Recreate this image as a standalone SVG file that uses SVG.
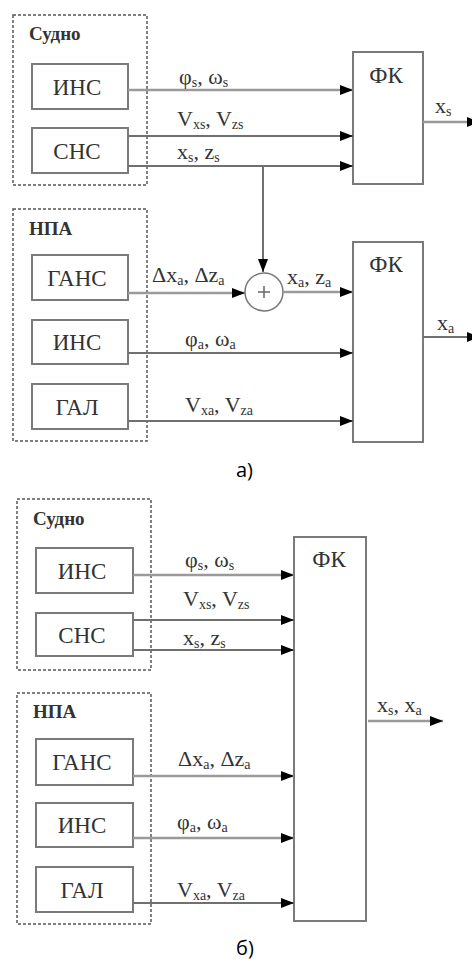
<svg xmlns="http://www.w3.org/2000/svg" width="472" height="963" viewBox="0 0 472 963">
<defs>
<style>
.grp{fill:none;stroke:#555;stroke-width:1.5;stroke-dasharray:3 2}
.box{fill:#fff;stroke:#7a7a7a;stroke-width:2}
.ln{fill:none;stroke:#707070;stroke-width:2}
.lt{fill:none;stroke:#9a9a9a;stroke-width:2.5}
.bt{font-family:"Liberation Serif","DejaVu Serif",serif;font-size:23px;fill:#333;text-anchor:middle}
.gt{font-family:"Liberation Serif","DejaVu Serif",serif;font-size:19px;font-weight:bold;fill:#333}
.lb{font-family:"Liberation Serif","DejaVu Serif",serif;font-size:22px;fill:#333}
.sub{font-size:14px}
.cap{font-family:"Open Sans","Liberation Sans",sans-serif;font-size:20px;fill:#000}
</style>
<marker id="ah" markerUnits="userSpaceOnUse" markerWidth="13" markerHeight="10" refX="13" refY="5" orient="auto">
<path d="M0,0 L13,5 L0,10 z" fill="#000"/>
</marker>
</defs>
<rect width="472" height="963" fill="#fff"/>

<!-- Part a -->
<g id="a-ship-group"><rect class="grp" x="13" y="15" width="134" height="170"/><text class="gt" x="29" y="40">Судно</text></g>
<g id="a-ins-s"><rect class="box" x="32" y="64" width="96" height="45"/><text class="bt" x="77" y="95">ИНС</text></g>
<g id="a-sns"><rect class="box" x="32" y="128" width="96" height="45"/><text class="bt" x="77" y="159">СНС</text></g>
<g id="a-npa-group"><rect class="grp" x="13" y="209" width="134" height="232"/><text class="gt" x="29" y="235">НПА</text></g>
<g id="a-gans"><rect class="box" x="32" y="255" width="96" height="45"/><text class="bt" x="77" y="286">ГАНС</text></g>
<g id="a-ins-a"><rect class="box" x="32" y="320" width="96" height="44"/><text class="bt" x="77" y="350">ИНС</text></g>
<g id="a-gal"><rect class="box" x="32" y="384" width="96" height="45"/><text class="bt" x="77" y="415">ГАЛ</text></g>
<g id="a-fk1"><rect class="box" x="353" y="52" width="70" height="132"/><text class="bt" x="386" y="83">ФК</text></g>
<g id="a-fk2"><rect class="box" x="353" y="242" width="70" height="200"/><text class="bt" x="386" y="272">ФК</text></g>
<g id="a-sum"><circle cx="264" cy="292" r="19" fill="#fff" stroke="#777" stroke-width="1.5"/><path d="M258,292 H270 M264,286 V298" stroke="#666" stroke-width="1.5"/></g>

<g id="a-connectors">
<line class="lt" x1="128" y1="90" x2="353" y2="90" marker-end="url(#ah)"/>
<line class="ln" x1="128" y1="136" x2="353" y2="136" marker-end="url(#ah)"/>
<line class="ln" x1="128" y1="166" x2="353" y2="166" marker-end="url(#ah)"/>
<line class="ln" x1="263" y1="166" x2="263" y2="272" marker-end="url(#ah)"/>
<line class="lt" x1="128" y1="293" x2="245" y2="293" marker-end="url(#ah)"/>
<line class="lt" x1="283" y1="292" x2="353" y2="292" marker-end="url(#ah)"/>
<line class="ln" x1="128" y1="353" x2="353" y2="353" marker-end="url(#ah)"/>
<line class="ln" x1="128" y1="421" x2="353" y2="421" marker-end="url(#ah)"/>
<line class="lt" x1="423" y1="122" x2="480" y2="122" marker-end="url(#ah)"/>
<line class="ln" x1="423" y1="337" x2="480" y2="337" marker-end="url(#ah)"/>
</g>

<g id="a-labels">
<text class="lb" x="179" y="84">φ<tspan class="sub" dy="3">s</tspan><tspan dy="-3">, ω</tspan><tspan class="sub" dy="3">s</tspan></text>
<text class="lb" x="177" y="126">V<tspan class="sub" dy="3">xs</tspan><tspan dy="-3">, V</tspan><tspan class="sub" dy="3">zs</tspan></text>
<text class="lb" x="177" y="159">x<tspan class="sub" dy="3">s</tspan><tspan dy="-3">, z</tspan><tspan class="sub" dy="3">s</tspan></text>
<text class="lb" x="435" y="113">x<tspan class="sub" dy="3">s</tspan></text>
<text class="lb" x="152" y="282">Δx<tspan class="sub" dy="3">a</tspan><tspan dy="-3">, Δz</tspan><tspan class="sub" dy="3">a</tspan></text>
<text class="lb" x="287" y="284">x<tspan class="sub" dy="3">a</tspan><tspan dy="-3">, z</tspan><tspan class="sub" dy="3">a</tspan></text>
<text class="lb" x="185" y="346">φ<tspan class="sub" dy="3">a</tspan><tspan dy="-3">, ω</tspan><tspan class="sub" dy="3">a</tspan></text>
<text class="lb" x="185" y="412">V<tspan class="sub" dy="3">xa</tspan><tspan dy="-3">, V</tspan><tspan class="sub" dy="3">za</tspan></text>
<text class="lb" x="437" y="330">x<tspan class="sub" dy="3">a</tspan></text>
</g>
<text class="cap" x="236" y="477">а)</text>

<!-- Part b -->
<g id="b-ship-group"><rect class="grp" x="17" y="499" width="134" height="171"/><text class="gt" x="33" y="525">Судно</text></g>
<g id="b-ins-s"><rect class="box" x="36" y="548" width="97" height="45"/><text class="bt" x="82" y="579">ИНС</text></g>
<g id="b-sns"><rect class="box" x="36" y="613" width="97" height="43"/><text class="bt" x="82" y="643">СНС</text></g>
<g id="b-npa-group"><rect class="grp" x="17" y="693" width="134" height="231"/><text class="gt" x="33" y="718">НПА</text></g>
<g id="b-gans"><rect class="box" x="36" y="739" width="97" height="46"/><text class="bt" x="82" y="770">ГАНС</text></g>
<g id="b-ins-a"><rect class="box" x="36" y="803" width="97" height="44"/><text class="bt" x="82" y="833">ИНС</text></g>
<g id="b-gal"><rect class="box" x="36" y="867" width="97" height="45"/><text class="bt" x="82" y="898">ГАЛ</text></g>
<g id="b-fk"><rect class="box" x="294" y="537" width="72" height="384"/><text class="bt" x="329" y="567">ФК</text></g>

<g id="b-connectors">
<line class="lt" x1="133" y1="575" x2="294" y2="575" marker-end="url(#ah)"/>
<line class="ln" x1="133" y1="620" x2="294" y2="620" marker-end="url(#ah)"/>
<line class="ln" x1="133" y1="650" x2="294" y2="650" marker-end="url(#ah)"/>
<line class="lt" x1="133" y1="776" x2="294" y2="776" marker-end="url(#ah)"/>
<line class="lt" x1="133" y1="838" x2="294" y2="838" marker-end="url(#ah)"/>
<line class="ln" x1="133" y1="903" x2="294" y2="903" marker-end="url(#ah)"/>
<line class="lt" x1="368" y1="721" x2="443" y2="721" marker-end="url(#ah)"/>
</g>

<g id="b-labels">
<text class="lb" x="185" y="567">φ<tspan class="sub" dy="3">s</tspan><tspan dy="-3">, ω</tspan><tspan class="sub" dy="3">s</tspan></text>
<text class="lb" x="183" y="606">V<tspan class="sub" dy="3">xs</tspan><tspan dy="-3">, V</tspan><tspan class="sub" dy="3">zs</tspan></text>
<text class="lb" x="183" y="645">x<tspan class="sub" dy="3">s</tspan><tspan dy="-3">, z</tspan><tspan class="sub" dy="3">s</tspan></text>
<text class="lb" x="178" y="766">Δx<tspan class="sub" dy="3">a</tspan><tspan dy="-3">, Δz</tspan><tspan class="sub" dy="3">a</tspan></text>
<text class="lb" x="177" y="829">φ<tspan class="sub" dy="3">a</tspan><tspan dy="-3">, ω</tspan><tspan class="sub" dy="3">a</tspan></text>
<text class="lb" x="177" y="897">V<tspan class="sub" dy="3">xa</tspan><tspan dy="-3">, V</tspan><tspan class="sub" dy="3">za</tspan></text>
<text class="lb" x="377" y="712">x<tspan class="sub" dy="3">s</tspan><tspan dy="-3">, x</tspan><tspan class="sub" dy="3">a</tspan></text>
</g>
<text class="cap" x="236" y="955">б)</text>
</svg>
